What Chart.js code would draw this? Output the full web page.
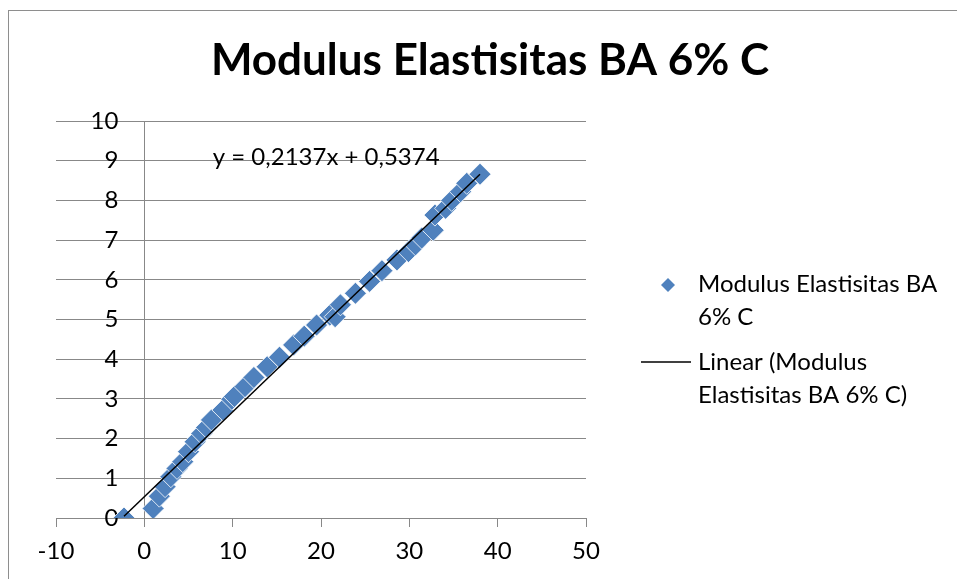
<!DOCTYPE html>
<html>
<head>
<meta charset="utf-8">
<script src="https://cdn.jsdelivr.net/npm/chart.js@4"></script>
<style>
  html, body { margin: 0; padding: 0; background: #fff; }
  #wrap { position: relative; width: 957px; height: 579px; overflow: hidden; }
  #frame { position: absolute; left: 8px; top: 10px; width: 1000px; height: 700px; border: 1px solid #8e8e8e; }
  canvas { position: absolute; left: 0; top: 0; }
</style>
</head>
<body>
<div id="wrap">
  <div id="frame"></div>
  <canvas id="chart" width="957" height="579"></canvas>
</div>
<script>
const chartTitle = 'Modulus Elastisitas BA 6% C';
const seriesName = 'Modulus Elastisitas BA 6% C';
const trendName = 'Linear (Modulus Elastisitas BA 6% C)';

const strainX = [-2.3, 1.0, 1.7, 2.35, 3.0, 3.7, 4.35, 5.0, 5.75, 6.5, 7.05, 7.6, 8.9, 9.9, 10.2,
  11.4, 12.4, 13.9, 15.3, 16.9, 18.1, 19.5, 21.0, 21.6, 22.2, 23.9, 25.5, 26.9, 28.6, 29.9,
  30.7, 31.4, 32.7, 32.9, 34.1, 34.8, 35.8, 36.5, 38.0];
const stressY = [0, 0.24, 0.55, 0.79, 1.04, 1.25, 1.42, 1.67, 1.92, 2.13, 2.28, 2.47, 2.72, 2.99, 3.06,
  3.31, 3.54, 3.81, 4.05, 4.36, 4.58, 4.86, 5.11, 5.07, 5.37, 5.66, 5.96, 6.23, 6.5, 6.71,
  6.88, 7.05, 7.25, 7.63, 7.8, 8.0, 8.22, 8.43, 8.66];

const xTicks = [-10, 0, 10, 20, 30, 40, 50];
const yTicks = [0, 1, 2, 3, 4, 5, 6, 7, 8, 9, 10];

const trendSlope = 0.2137;
const trendIntercept = 0.5374;

const FONT = 'Lato, "Open Sans", sans-serif';
const GRID = '#888888';
const BLUE = '#4F81BD';

const points = strainX.map((x, i) => ({ x, y: stressY[i] }));
const xMin = Math.min(...strainX), xMax = Math.max(...strainX);
const trendPoints = [xMin, xMax].map(x => ({ x, y: trendSlope * x + trendIntercept }));
const eqText = 'y = ' + trendSlope.toFixed(4).replace('.', ',') + 'x + ' + trendIntercept.toFixed(4).replace('.', ',');

function wrapText(ctx, text, maxWidth) {
  const words = text.split(' ');
  const lines = [];
  let line = '';
  words.forEach(w => {
    const test = line ? line + ' ' + w : w;
    if (ctx.measureText(test).width > maxWidth && line) {
      lines.push(line);
      line = w;
    } else {
      line = test;
    }
  });
  if (line) lines.push(line);
  return lines;
}

// title, trendline equation and the legend (wrapped like excel does)
const overlayPlugin = {
  id: 'overlay',
  beforeDraw(chart) {
    // y axis sits at x=0, chart.js ignores tick padding there so push labels left by hand
    const ys = chart.scales.y;
    ys.getLabelItems().forEach(it => {
      if (!it._shifted) { it.options.translation[0] -= 26; it._shifted = true; }
    });
  },
  afterDraw(chart) {
    const ctx = chart.ctx;
    const xs = chart.scales.x, ys = chart.scales.y;
    ctx.save();
    ctx.fillStyle = '#000';

    ctx.font = 'bold 44px ' + FONT;
    ctx.textAlign = 'center';
    ctx.textBaseline = 'middle';
    ctx.fillText(chartTitle, 490, 61);

    ctx.font = '24px ' + FONT;
    ctx.textAlign = 'left';
    ctx.fillText(eqText, xs.getPixelForValue(7.75), ys.getPixelForValue(9.08));

    const ds = chart.data.datasets;
    const textX = 698, lineH = 33;
    let y = 284;
    ds.slice().sort((a, b) => b.order - a.order).forEach(d => {
      const lines = wrapText(ctx, d.label, 250);
      if (d.showLine) {
        ctx.strokeStyle = d.borderColor;
        ctx.lineWidth = 1.5;
        ctx.beginPath();
        ctx.moveTo(641, y);
        ctx.lineTo(691, y);
        ctx.stroke();
      } else {
        ctx.fillStyle = d.backgroundColor;
        ctx.beginPath();
        ctx.moveTo(668 - 7, y + 1);
        ctx.lineTo(668, y + 1 - 7);
        ctx.lineTo(668 + 7, y + 1);
        ctx.lineTo(668, y + 1 + 7);
        ctx.closePath();
        ctx.fill();
      }
      ctx.fillStyle = '#000';
      lines.forEach((ln, i) => ctx.fillText(ln, textX, y + i * lineH));
      y += lines.length * lineH + 12;
    });
    ctx.restore();
  }
};

new Chart(document.getElementById('chart'), {
  type: 'scatter',
  data: {
    datasets: [
      {
        label: seriesName,
        data: points,
        order: 1,
        pointStyle: 'rectRot',
        pointRadius: 11,
        pointHoverRadius: 11,
        backgroundColor: BLUE,
        borderColor: '#ffffff',
        borderWidth: 0.8
      },
      {
        label: trendName,
        data: trendPoints,
        order: 0,
        showLine: true,
        pointRadius: 0,
        borderColor: '#000000',
        backgroundColor: '#000000',
        borderWidth: 1.5
      }
    ]
  },
  options: {
    responsive: false,
    animation: false,
    events: [],
    layout: { padding: { left: 56, right: 371, top: 121, bottom: 61 } },
    plugins: {
      legend: { display: false },
      title: { display: false },
      tooltip: { enabled: false }
    },
    scales: {
      x: {
        type: 'linear',
        min: -10,
        max: 50,
        position: { y: 0 },
        afterBuildTicks: s => { s.ticks = xTicks.map(v => ({ value: v })); },
        grid: { drawOnChartArea: false, drawTicks: true, tickLength: 8, color: GRID },
        border: { color: GRID, width: 1 },
        ticks: { color: '#000', font: { family: FONT, size: 24 }, padding: 11, maxRotation: 0 }
      },
      y: {
        type: 'linear',
        min: 0,
        max: 10,
        position: { x: 0 },
        afterBuildTicks: s => { s.ticks = yTicks.map(v => ({ value: v })); },
        grid: { color: GRID, drawTicks: false },
        border: { color: GRID, width: 1 },
        ticks: { color: '#000', font: { family: FONT, size: 24 } }
      }
    }
  },
  plugins: [overlayPlugin]
});
</script>
</body>
</html>
